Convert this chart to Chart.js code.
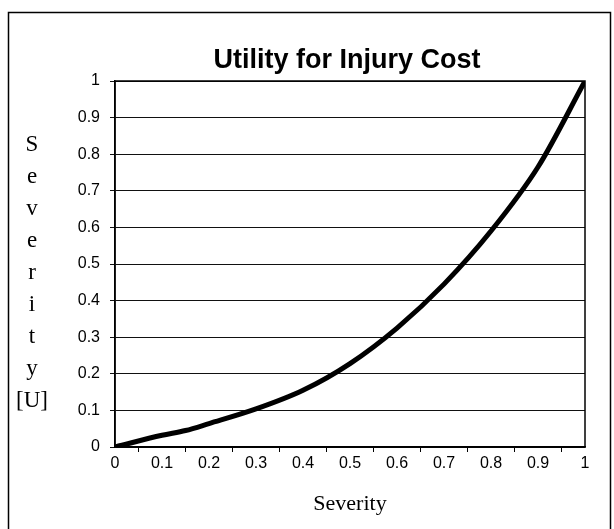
<!DOCTYPE html>
<html>
<head>
<meta charset="utf-8">
<script src="https://cdn.jsdelivr.net/npm/chart.js@4.4.0/dist/chart.umd.min.js"></script>
<style>
  html, body { margin: 0; padding: 0; background: #fff; }
  #wrap { width: 614px; height: 529px; position: relative; }
</style>
</head>
<body>
<div id="wrap"><canvas id="chart" width="614" height="529"></canvas></div>
<script>
// values
const severity = [0, 0.1, 0.15, 0.2, 0.3, 0.4, 0.5, 0.6, 0.7, 0.8, 0.9, 1];
const utility  = [0, 0.032, 0.045, 0.064, 0.104, 0.155, 0.228, 0.325, 0.445, 0.59, 0.765, 1];
const chartTitle = 'Utility for Injury Cost';
const xTitle = 'Severity';
const yTitle = ['S', 'e', 'v', 'e', 'r', 'i', 't', 'y', '[U]'];

const fmt = v => Number(v.toFixed(2)).toString();

// frame, title and stacked y label
const decor = {
  id: 'decor',
  beforeDraw(chart) {
    const ctx = chart.ctx;
    ctx.save();
    ctx.fillStyle = '#fff';
    ctx.fillRect(0, 0, chart.width, chart.height);
    ctx.restore();
  },
  beforeDatasetsDraw(chart) {
    const ctx = chart.ctx, a = chart.chartArea;
    ctx.save();
    ctx.strokeStyle = '#000';
    ctx.lineWidth = 1.5;
    ctx.strokeRect(8.5, 12.5, 602, 560);
    ctx.strokeRect(a.left, a.top, a.right - a.left, a.bottom - a.top);
    ctx.fillStyle = '#000';
    ctx.textAlign = 'center';
    ctx.textBaseline = 'alphabetic';
    ctx.font = 'bold 27px "Liberation Sans", Arial, sans-serif';
    ctx.fillText(chartTitle, (a.left + a.right) / 2 - 3, 68);
    ctx.font = '23px "Liberation Serif", "Times New Roman", serif';
    yTitle.forEach((s, i) => ctx.fillText(s, 32, 151 + i * 32));
    ctx.restore();
  }
};

new Chart(document.getElementById('chart'), {
  type: 'line',
  data: {
    datasets: [{
      data: severity.map((x, i) => ({ x: x, y: utility[i] })),
      borderColor: '#000',
      borderWidth: 5,
      pointRadius: 0,
      cubicInterpolationMode: 'monotone',
      fill: false
    }]
  },
  options: {
    responsive: false,
    animation: false,
    devicePixelRatio: 1,
    layout: { padding: { top: 81, right: 29, left: 0, bottom: 0 } },
    plugins: { legend: { display: false }, title: { display: false }, tooltip: { enabled: false } },
    scales: {
      x: {
        type: 'linear',
        min: 0, max: 1,
        afterFit(scale) { scale.height = 82; },
        border: { display: true, color: '#000', width: 1.5 },
        grid: {
          drawOnChartArea: false,
          tickLength: 5,
          tickColor: c => (c.index % 2 === 1 ? '#000' : 'rgba(0,0,0,0)')
        },
        ticks: {
          stepSize: 0.05,
          autoSkip: false,
          maxRotation: 0,
          padding: 2,
          color: '#000',
          font: { family: '"Liberation Sans", Arial, sans-serif', size: 16 },
          callback: v => (Math.round(v * 100) % 10 === 0 ? fmt(v) : '')
        },
        title: {
          display: true,
          text: xTitle,
          color: '#000',
          font: { family: '"Liberation Serif", "Times New Roman", serif', size: 22 },
          padding: { top: 0, bottom: 12 }
        }
      },
      y: {
        min: 0, max: 1,
        afterFit(scale) { scale.width = 115; },
        border: { display: true, color: '#000', width: 1.5 },
        grid: { color: '#111', lineWidth: 1, tickLength: 5 },
        ticks: {
          stepSize: 0.1,
          padding: 10,
          color: '#000',
          font: { family: '"Liberation Sans", Arial, sans-serif', size: 16 },
          callback: v => fmt(v)
        }
      }
    }
  },
  plugins: [decor]
});
</script>
</body>
</html>
